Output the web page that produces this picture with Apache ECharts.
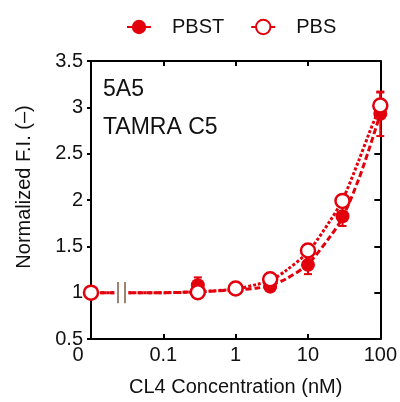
<!DOCTYPE html>
<html>
<head>
<meta charset="utf-8">
<script src="https://cdn.jsdelivr.net/npm/echarts@6/dist/echarts.min.js"></script>
<style>
  html, body { margin: 0; padding: 0; background: #fff; }
  #myChart { width: 400px; height: 402px; }
</style>
</head>
<body>
<div id="myChart"></div>
<script>
// measured points (x = 0 is drawn at 0.01 on the log axis)
const concX = [0.01, 0.3, 1, 3, 10, 30, 100];
const pbstY = [1.0, 1.08, 1.05, 1.065, 1.30, 1.825, 2.93];
const pbstErr = [0, 0.085, 0, 0, 0.10, 0.105, 0.24];
const pbsY = [1.0, 1.005, 1.045, 1.145, 1.455, 1.99, 3.02];
const pbsErr = [0, 0, 0, 0, 0, 0, 0.14];

// fitted curves ('-' = gap at the axis break)
const fitX = [0.01, 0.021, 0.021, 0.033, 0.1, 0.3, 1, 2, 3, 5, 10, 20, 30, 50, 70, 100];
const pbstFit = [1.0, 1.0, '-', 1.0, 1.0, 1.01, 1.03, 1.05, 1.08, 1.15, 1.31, 1.60, 1.81, 2.22, 2.55, 2.93];
const pbsFit = [1.0, 1.0, '-', 1.0, 1.0, 1.01, 1.04, 1.09, 1.13, 1.24, 1.44, 1.77, 2.00, 2.42, 2.72, 3.02];

const breakX = [0.0238, 0.0295];

const red = '#e2000c';
const font = 'Liberation Sans, Arial, sans-serif';

const pairs = (xs, ys) => xs.map((x, i) => [x, ys[i]]);
const errPairs = (xs, ys, es) => xs.map((x, i) => [x, ys[i], es[i]]).filter(d => d[2] > 0);

const myChart = echarts.init(document.getElementById('myChart'));

function errorBars(params, api) {
	const x = api.value(0), y = api.value(1), e = api.value(2);
	const hi = api.coord([x, y + e]);
	const lo = api.coord([x, y - e]);
	const w = 4;
	const style = { stroke: red, lineWidth: 2 };
	return {
		type: 'group',
		children: [
			{ type: 'line', shape: { x1: hi[0], y1: hi[1], x2: lo[0], y2: lo[1] }, style },
			{ type: 'line', shape: { x1: hi[0] - w, y1: hi[1], x2: hi[0] + w, y2: hi[1] }, style },
			{ type: 'line', shape: { x1: lo[0] - w, y1: lo[1], x2: lo[0] + w, y2: lo[1] }, style }
		]
	};
}

const option = {
	animation: false,
	textStyle: { fontFamily: font },
	legend: {
		top: 12,
		left: 121,
		itemWidth: 24,
		itemHeight: 18,
		itemGap: 26,
		textStyle: { fontSize: 20, color: '#111', padding: [0, 0, 0, 16] },
		data: [
			{ name: 'PBST', lineStyle: { width: 2, type: 'solid', color: red, opacity: 1 } },
			{ name: 'PBS', lineStyle: { width: 2, type: 'solid', color: red, opacity: 1 } }
		]
	},
	grid: { left: 91, right: 19, top: 61, bottom: 60 },
	xAxis: [
		{
			type: 'log',
			logBase: 10,
			min: 0.01,
			max: 100,
			name: 'CL4 Concentration (nM)',
			nameLocation: 'middle',
			nameGap: 38,
			nameTextStyle: { fontSize: 20, color: '#111' },
			axisLine: { onZero: false, lineStyle: { color: '#000', width: 2 } },
			axisTick: { inside: true, length: 5, lineStyle: { width: 2 } },
			minorTick: { show: false },
			splitLine: { show: false },
			axisLabel: {
				fontSize: 20,
				color: '#111',
				margin: 6,
				showMinLabel: true,
				showMaxLabel: true,
				formatter: v => (v <= 0.011 ? '{z|0}' : String(+v.toPrecision(3))),
				rich: { z: { fontSize: 20, color: '#111', padding: [0, 26, 0, 0] } }
			}
		},
		{
			type: 'log',
			logBase: 10,
			min: 0.01,
			max: 100,
			position: 'top',
			axisLine: { onZero: false, lineStyle: { color: '#000', width: 2 } },
			axisTick: { inside: true, length: 5, lineStyle: { width: 2 } },
			axisLabel: { show: false },
			splitLine: { show: false }
		}
	],
	yAxis: [
		{
			type: 'value',
			min: 0.5,
			max: 3.5,
			interval: 0.5,
			name: 'Normalized F.I. (\u2013)',
			nameLocation: 'middle',
			nameGap: 57,
			nameTextStyle: { fontSize: 20, color: '#111', padding: [0, 0, 0, 26] },
			axisLine: { show: true, onZero: false, lineStyle: { color: '#000', width: 2 } },
			axisTick: { show: true, inside: false, length: 4, lineStyle: { width: 2 } },
			axisLabel: { fontSize: 20, color: '#111', margin: 8 },
			splitLine: { show: false }
		},
		{
			type: 'value',
			min: 0.5,
			max: 3.5,
			interval: 0.5,
			position: 'right',
			axisLine: { show: true, onZero: false, lineStyle: { color: '#000', width: 2 } },
			axisTick: { show: true, inside: true, length: 6, lineStyle: { width: 2 } },
			axisLabel: { show: false },
			splitLine: { show: false }
		}
	],
	graphic: [
		{ type: 'text', left: 103, top: 78, style: { text: '5A5', fontSize: 23, fill: '#111', fontFamily: font } },
		{ type: 'text', left: 103, top: 116, style: { text: 'TAMRA C5', fontSize: 23, fill: '#111', fontFamily: font } }
	],
	series: [
		{
			name: 'PBST fit',
			type: 'line',
			data: pairs(fitX, pbstFit),
			smooth: 0.3,
			showSymbol: false,
			connectNulls: false,
			lineStyle: { color: red, width: 3, type: [6, 3] },
			z: 1,
			markLine: {
				silent: true,
				symbol: 'none',
				label: { show: false },
				lineStyle: { color: '#7d5a45', width: 1.5, type: 'solid' },
				data: breakX.map(bx => [{ coord: [bx, 0.885] }, { coord: [bx, 1.115] }])
			}
		},
		{
			name: 'PBS fit',
			type: 'line',
			data: pairs(fitX, pbsFit),
			smooth: 0.3,
			showSymbol: false,
			connectNulls: false,
			lineStyle: { color: red, width: 3, type: [3, 2] },
			z: 1
		},
		{
			name: 'PBST err',
			type: 'custom',
			renderItem: errorBars,
			data: errPairs(concX, pbstY, pbstErr),
			encode: { x: 0, y: 1 },
			z: 2
		},
		{
			name: 'PBS err',
			type: 'custom',
			renderItem: errorBars,
			data: errPairs(concX, pbsY, pbsErr),
			encode: { x: 0, y: 1 },
			z: 2
		},
		{
			name: 'PBST',
			type: 'line',
			data: pairs(concX, pbstY),
			symbol: 'circle',
			symbolSize: 14,
			itemStyle: { color: red },
			lineStyle: { width: 0, opacity: 0 },
			z: 3
		},
		{
			name: 'PBS',
			type: 'line',
			data: pairs(concX, pbsY),
			symbol: 'circle',
			symbolSize: 14,
			itemStyle: { color: '#fff', borderColor: red, borderWidth: 2.5 },
			lineStyle: { width: 0, opacity: 0, color: red },
			z: 4
		}
	]
};

myChart.setOption(option);
window.addEventListener('resize', () => myChart.resize());
</script>
</body>
</html>
